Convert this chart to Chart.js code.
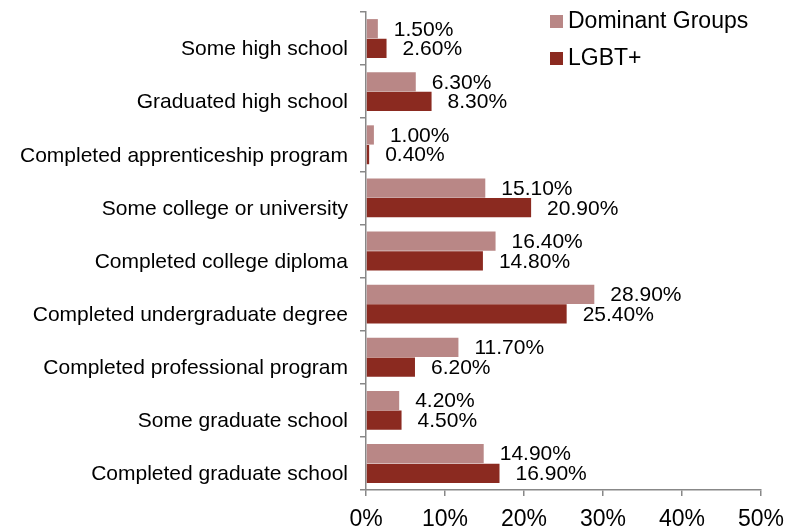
<!DOCTYPE html>
<html>
<head>
<meta charset="utf-8">
<script src="https://cdn.jsdelivr.net/npm/chart.js@4.4.1/dist/chart.umd.min.js"></script>
<style>
  html, body { margin: 0; padding: 0; background: #fff; }
  #wrap { width: 798px; height: 529px; }
</style>
</head>
<body>
<div id="wrap"><canvas id="edu"></canvas></div>
<script>
// categories and values (percent)
var categories = [
  "Some high school",
  "Graduated high school",
  "Completed apprenticeship program",
  "Some college or university",
  "Completed college diploma",
  "Completed undergraduate degree",
  "Completed professional program",
  "Some graduate school",
  "Completed graduate school"
];
var dominant = [1.5, 6.3, 1.0, 15.1, 16.4, 28.9, 11.7, 4.2, 14.9];
var lgbt = [2.6, 8.3, 0.4, 20.9, 14.8, 25.4, 6.2, 4.5, 16.9];
var xTicks = [0, 10, 20, 30, 40, 50];

var FONT = "Arial, 'Liberation Sans', sans-serif";

// value labels at bar ends
var valueLabels = {
  id: 'valueLabels',
  afterDatasetsDraw: function(chart) {
    var ctx = chart.ctx;
    ctx.save();
    ctx.font = "21px " + FONT;
    ctx.fillStyle = "#000";
    ctx.textAlign = "left";
    ctx.textBaseline = "middle";
    chart.data.datasets.forEach(function(ds, i) {
      chart.getDatasetMeta(i).data.forEach(function(bar, j) {
        ctx.fillText(ds.data[j].toFixed(2) + "%", bar.x + 16, bar.y + 1);
      });
    });
    ctx.restore();
  }
};

// legend drawn top right
var sideLegend = {
  id: 'sideLegend',
  afterDraw: function(chart) {
    var ctx = chart.ctx;
    ctx.save();
    ctx.font = "23px " + FONT;
    ctx.textBaseline = "middle";
    chart.data.datasets.forEach(function(ds, i) {
      var y = 22 + i * 37;
      ctx.fillStyle = ds.backgroundColor;
      ctx.fillRect(550, y - 7, 13, 13);
      ctx.fillStyle = "#000";
      ctx.fillText(ds.label, 568, y);
    });
    ctx.restore();
  }
};

new Chart(document.getElementById("edu"), {
  type: 'bar',
  data: {
    labels: categories,
    datasets: [
      { label: "Dominant Groups", backgroundColor: "#B98786", data: dominant },
      { label: "LGBT+", backgroundColor: "#8B2A20", data: lgbt }
    ]
  },
  options: {
    indexAxis: 'y',
    responsive: true,
    maintainAspectRatio: false,
    animation: false,
    layout: { padding: { top: 12, right: 37, left: 0, bottom: 0 } },
    datasets: {
      bar: { categoryPercentage: 0.74, barPercentage: 0.98 }
    },
    plugins: {
      legend: { display: false },
      tooltip: { enabled: false }
    },
    scales: {
      x: {
        min: 0,
        max: 50,
        afterBuildTicks: function(scale) {
          scale.ticks = xTicks.map(function(v) { return { value: v }; });
        },
        afterFit: function(scale) { scale.height = 39; },
        border: { color: "#888", width: 1.5 },
        grid: { drawOnChartArea: false, drawTicks: true, tickLength: 6, color: "#888", lineWidth: 1.5 },
        ticks: {
          color: "#000",
          padding: 10,
          font: { size: 23, family: FONT },
          callback: function(v) { return v + "%"; }
        }
      },
      y: {
        afterFit: function(scale) {
          scale.width = 366;
          scale.paddingTop = 0;
          scale.paddingBottom = 0;
        },
        border: { color: "#888", width: 1.5 },
        grid: { drawOnChartArea: false, drawTicks: true, tickLength: 6, color: "#888", lineWidth: 1.5, offset: true },
        ticks: {
          color: "#000",
          padding: 12,
          labelOffset: 11,
          font: { size: 21, family: FONT }
        }
      }
    }
  },
  plugins: [valueLabels, sideLegend]
});
</script>
</body>
</html>
